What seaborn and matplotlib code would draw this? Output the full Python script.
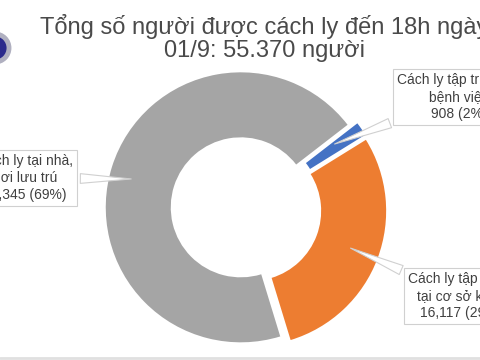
import matplotlib.pyplot as plt
import matplotlib.patches as mpatches
import seaborn as sns

# data
categories = ["Cách ly tại nhà,\nnơi lưu trú", "Cách ly tập trung tại\nbệnh viện", "Cách ly tập trung\ntại cơ sở khác"]
values = [38345, 908, 16117]
colors = ["#A5A5A5", "#4472C4", "#ED7D31"]
title = "Tổng số người được cách ly đến 18h ngày\n01/9: 55.370 người"

sns.set_theme(style="white")
plt.rcParams['font.family'] = ['Liberation Sans', 'DejaVu Sans']

fig = plt.figure(figsize=(4.8, 3.6), dpi=100)
ax = fig.add_axes([0, 0, 1, 1])

total = sum(values)
wedges, _ = ax.pie(values, colors=colors, startangle=-73, counterclock=False,
                   center=(246, 151), radius=135, explode=[5.5, 5.5, 5.5],
                   wedgeprops=dict(width=65, linewidth=0), frame=True)
ax.set_xlim(0, 480)
ax.set_ylim(0, 360)
ax.set_aspect('equal')
ax.axis('off')

labels = [f"{c}\n{v:,} ({round(v / total * 100)}%)" for c, v in zip(categories, values)]
# (text position, pointer tip)
spots = [((25, 182), (134, 181)), ((459, 263), (332, 215)), ((461, 64), (348, 113))]
for lab, (txt, tip) in zip(labels, spots):
    ax.annotate(lab, xy=tip, xytext=txt, ha='center', va='center', fontsize=10,
                color='#404040', linespacing=1.25,
                bbox=dict(boxstyle='square,pad=0.3', fc='white', ec='#D0D0D0', lw=0.8),
                arrowprops=dict(arrowstyle='wedge,tail_width=0.7,shrink_factor=0.5',
                                fc='white', ec='#D0D0D0', lw=0.8))

ax.text(264, 322, title, ha='center', va='center', fontsize=17, color='#4A4A4A',
        linespacing=1.05)

# logo stub at left edge
ax.add_patch(mpatches.Circle((-5, 312), 14, fc='#2B2A8C', ec='#B0B0C0', lw=3.5))
# bottom rule
ax.axhline(2, color='#E0E0E0', lw=2)

fig.savefig("out.png", dpi=100)
